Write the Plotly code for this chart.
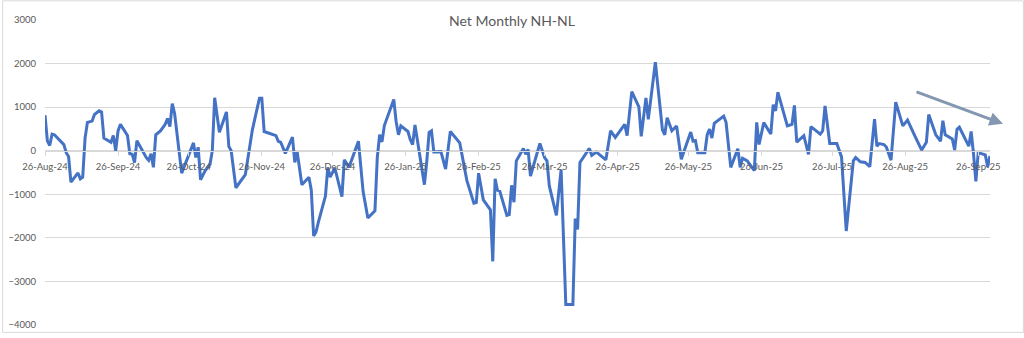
import plotly.graph_objects as go

# ---- data ----
dates = [
    "2024-08-26", "2024-08-27", "2024-08-28", "2024-08-29", "2024-08-30", "2024-09-03", "2024-09-04",
    "2024-09-05", "2024-09-06", "2024-09-09", "2024-09-10", "2024-09-11", "2024-09-12", "2024-09-13",
    "2024-09-15", "2024-09-16", "2024-09-18", "2024-09-19", "2024-09-20", "2024-09-23", "2024-09-24",
    "2024-09-25", "2024-09-26", "2024-09-27", "2024-09-30", "2024-10-01", "2024-10-02", "2024-10-03",
    "2024-10-04", "2024-10-08", "2024-10-09", "2024-10-10", "2024-10-11", "2024-10-12", "2024-10-14",
    "2024-10-16", "2024-10-17", "2024-10-18", "2024-10-19", "2024-10-20", "2024-10-23", "2024-10-25",
    "2024-10-28", "2024-10-29", "2024-10-30", "2024-10-31", "2024-11-02", "2024-11-04", "2024-11-05",
    "2024-11-06", "2024-11-08", "2024-11-11", "2024-11-12", "2024-11-13", "2024-11-15", "2024-11-19",
    "2024-11-22", "2024-11-25", "2024-11-26", "2024-11-27", "2024-12-02", "2024-12-03", "2024-12-04",
    "2024-12-06", "2024-12-09", "2024-12-10", "2024-12-11", "2024-12-13", "2024-12-16", "2024-12-17",
    "2024-12-18", "2024-12-19", "2024-12-20", "2024-12-23", "2024-12-24", "2024-12-25", "2024-12-27",
    "2024-12-30", "2024-12-31", "2025-01-02", "2025-01-06", "2025-01-08", "2025-01-10", "2025-01-13",
    "2025-01-14", "2025-01-15", "2025-01-16", "2025-01-17", "2025-01-21", "2025-01-22", "2025-01-23",
    "2025-01-24", "2025-01-27", "2025-01-28", "2025-01-29", "2025-01-30", "2025-02-03", "2025-02-04",
    "2025-02-05", "2025-02-06", "2025-02-07", "2025-02-10", "2025-02-12", "2025-02-14", "2025-02-18",
    "2025-02-21", "2025-02-24", "2025-02-25", "2025-02-26", "2025-02-28", "2025-03-03", "2025-03-04",
    "2025-03-05", "2025-03-06", "2025-03-07", "2025-03-10", "2025-03-11", "2025-03-12", "2025-03-13",
    "2025-03-14", "2025-03-17", "2025-03-18", "2025-03-19", "2025-03-20", "2025-03-24", "2025-03-26",
    "2025-03-27", "2025-03-28", "2025-03-31", "2025-04-02", "2025-04-04", "2025-04-07", "2025-04-08",
    "2025-04-09", "2025-04-10", "2025-04-14", "2025-04-15", "2025-04-17", "2025-04-21", "2025-04-23",
    "2025-04-25", "2025-04-29", "2025-04-30", "2025-05-02", "2025-05-05", "2025-05-06", "2025-05-08",
    "2025-05-09", "2025-05-12", "2025-05-15", "2025-05-16", "2025-05-17", "2025-05-19", "2025-05-21",
    "2025-05-23", "2025-05-27", "2025-05-28", "2025-05-29", "2025-05-30", "2025-06-02", "2025-06-03",
    "2025-06-04", "2025-06-05", "2025-06-06", "2025-06-10", "2025-06-11", "2025-06-13", "2025-06-16",
    "2025-06-17", "2025-06-18", "2025-06-20", "2025-06-23", "2025-06-24", "2025-06-25", "2025-06-27",
    "2025-06-30", "2025-07-01", "2025-07-02", "2025-07-03", "2025-07-07", "2025-07-09", "2025-07-10",
    "2025-07-11", "2025-07-14", "2025-07-16", "2025-07-17", "2025-07-21", "2025-07-22", "2025-07-23",
    "2025-07-25", "2025-07-28", "2025-07-30", "2025-07-31", "2025-08-01", "2025-08-04", "2025-08-05",
    "2025-08-07", "2025-08-09", "2025-08-11", "2025-08-13", "2025-08-14", "2025-08-15", "2025-08-17",
    "2025-08-18", "2025-08-20", "2025-08-22", "2025-08-25", "2025-08-27", "2025-08-30", "2025-09-02",
    "2025-09-04", "2025-09-05", "2025-09-08", "2025-09-10", "2025-09-11", "2025-09-12", "2025-09-15",
    "2025-09-16", "2025-09-17", "2025-09-18", "2025-09-22", "2025-09-23", "2025-09-24", "2025-09-25",
    "2025-09-26", "2025-09-29", "2025-09-30", "2025-10-01",
]

net_nh_nl = [
    816, 225, 120, 380, 366, 140, -45,
    -135, -720, -510, -645, -607, 290, 650,
    680, 831, 915, 890, 290, 195, 350,
    0, 455, 605, 350, -70, -80, -270,
    230, -160, -220, -70, -380, 365, 455,
    605, 740, 555, 1080, 855, -515, -230,
    180, -155, 80, -665, -455, -320, 0,
    1215, 425, 890, 100, 0, -850, -550,
    480, 1205, 1205, 440, 345, 215, 195,
    -60, 310, -270, -20, -780, -607, -905,
    -1955, -1865, -1640, -1040, -382, -607, -397,
    -1055, -210, -382, 218, -944, -1544, -1378,
    -157, 366, 202, 577, 1175, 667, 366,
    569, 442, 254, 142, 591, -780, -247,
    420, 457, -30, -22, -420, 442, 180,
    -681, -1206, -1191, -517, -1131, -1355, -2540,
    -644, -906, -930, -1483, -1468, -794, -1183,
    -232, 52, -82, 30, -584, 165, -157,
    -232, -809, -1483, -434, -3528, -3528, -1558,
    -1805, -270, 52, -105, -30, -210, 457,
    307, 606, 345, 1356, 1004, 330, 1213,
    719, 2030, 479, 366, 757, 457, 569,
    -195, 427, 218, 232, -45, -45, 366,
    494, 292, 629, 794, 652, -382, 45,
    -382, -172, -232, -457, 652, 142, 644,
    382, 1056, 914, 1341, 569, 607, 1041,
    195, 344, -82, 554, 382, 457, 1026,
    165, 165, -142, -944, -1843, -232, -157,
    -254, -270, -367, 726, 105, 165, 142,
    83, -217, 1116, 569, 704, 352, 15,
    195, 831, 366, 218, 689, 366, 270,
    15, 494, 539, 105, 442, -67, -704,
    -45, -97, -367, -120,
]

x_tick_dates = [
    "2024-08-26", "2024-09-26", "2024-10-26", "2024-11-26", "2024-12-26", "2025-01-26",
    "2025-02-26", "2025-03-26", "2025-04-26", "2025-05-26", "2025-06-26", "2025-07-26",
    "2025-08-26", "2025-09-26",
]
title_text = "Net Monthly NH-NL"
y_ticks = [3000, 2000, 1000, 0, -1000, -2000, -3000, -4000]

fig = go.Figure()
fig.add_trace(go.Scatter(
    x=dates, y=net_nh_nl, mode="lines",
    line=dict(color="#4472C4", width=3),
    showlegend=False, hoverinfo="x+y",
))

grey_txt = "#595959"
grid = "#D9D9D9"

fig.update_layout(
    width=1024, height=338,
    margin=dict(l=43, r=34, t=20, b=8),
    paper_bgcolor="white", plot_bgcolor="white",
    font=dict(family="Lato, 'Open Sans', sans-serif", color=grey_txt, size=10),
    title=dict(text=title_text, x=0.5, xanchor="center", y=1 - 21 / 338, yanchor="middle",
               font=dict(size=14, color=grey_txt, family="Lato, sans-serif")),
    xaxis=dict(
        type="date",
        range=["2024-08-26", "2025-10-01"],
        tickmode="array", tickvals=x_tick_dates, tickformat="%d-%b-%y",
        showgrid=False, zeroline=False,
        showline=True, linecolor=grid, linewidth=1,
        ticks="outside", ticklen=4, tickcolor=grid,
        anchor="free", position=(0 - (-4000)) / 7000,
        tickfont=dict(size=9.5, color=grey_txt),
        ticklabelstandoff=3,
    ),
    yaxis=dict(
        range=[-4000, 3000], tickvals=y_ticks,
        showgrid=True, gridcolor=grid, gridwidth=1,
        zeroline=False, showline=False, ticks="",
        tickfont=dict(size=9.5, color=grey_txt),
        ticklabelstandoff=8,
    ),
    shapes=[dict(type="rect", xref="paper", yref="paper",
                 x0=(0.5 - 43) / 947, x1=(1023.5 - 43) / 947,
                 y0=(330 - 337.5) / 310, y1=(330 - 0.5) / 310,
                 line=dict(color="#D9D9D9", width=1), layer="below")],
    annotations=[dict(xref="paper", yref="paper", x=(1003 - 43) / 947, y=(330 - 125.5) / 310,
                      ax=-88, ay=-32.5, axref="pixel", ayref="pixel",
                      text="", showarrow=True, arrowhead=2, arrowsize=0.9, arrowwidth=3,
                      arrowcolor="#8497B0")],
)

fig.write_html("out.html")
